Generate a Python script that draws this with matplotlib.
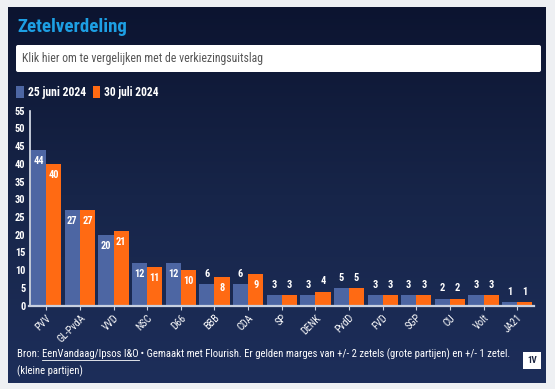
"""Zetelverdeling peiling: 25 juni vs 30 juli 2024."""

import logging

import matplotlib

matplotlib.use("Agg")
import matplotlib.pyplot as plt
import numpy as np
from matplotlib.colors import LinearSegmentedColormap
from matplotlib.patches import FancyBboxPatch, Rectangle

logging.getLogger("matplotlib.font_manager").setLevel(logging.ERROR)

parties = ["PVV", "GL-PvdA", "VVD", "NSC", "D66", "BBB", "CDA", "SP", "DENK",
           "PvdD", "FVD", "SGP", "CU", "Volt", "JA21"]
seats_june = [44, 27, 20, 12, 12, 6, 6, 3, 3, 5, 3, 3, 2, 3, 1]
seats_july = [40, 27, 21, 11, 10, 8, 9, 3, 4, 5, 3, 3, 2, 3, 1]
series_labels = ["25 juni 2024", "30 juli 2024"]
y_ticks = list(range(0, 60, 5))

BLUE = "#4d66a3"
ORANGE = "#ff6a13"
TEXT = "#ffffff"
FONT = dict(family=["Roboto Condensed", "Barlow Condensed", "DejaVu Sans"])

W, H = 555, 389
fig = plt.figure(figsize=(W / 100, H / 100), dpi=100)
fig.patch.set_facecolor("#eef0f3")
renderer = fig.canvas.get_renderer()


def width_px(t):
    return t.get_window_extent(renderer).width


def fit(t, target):
    # scale font so the rendered text spans `target` pixels
    t.set_fontsize(t.get_fontsize() * target / width_px(t))
    return t


# background layer in pixel coordinates
bg = fig.add_axes([0, 0, 1, 1])
bg.axis("off")
grad = np.linspace(0, 1, 256)[:, None]
navy = LinearSegmentedColormap.from_list("navy", ["#0c1430", "#172549", "#1d2e5a"])
bg.imshow(grad, extent=(8, 546, 383, 7), cmap=navy, aspect="auto", zorder=0)
bg.set_xlim(0, W)
bg.set_ylim(H, 0)

fit(bg.text(17, 27, "Zetelverdeling", color="#1d9fe3", fontsize=13, fontweight="bold",
            va="center", ha="left", **FONT), 109)
bg.add_patch(FancyBboxPatch((16, 45), 525, 27, boxstyle="round,pad=0,rounding_size=2",
                            facecolor="white", edgecolor="none"))
fit(bg.text(22, 58.5, "Klik hier om te vergelijken met de verkiezingsuitslag",
            color="#555555", fontsize=8, va="center", ha="left", **FONT), 241)

# legend
bg.add_patch(Rectangle((16, 86), 8, 12, facecolor=BLUE, edgecolor="none"))
fit(bg.text(28, 92, series_labels[0], color=TEXT, fontsize=8.5, fontweight="bold",
            va="center", ha="left", **FONT), 58)
bg.add_patch(Rectangle((93, 86), 7, 12, facecolor=ORANGE, edgecolor="none"))
fit(bg.text(104, 92, series_labels[1], color=TEXT, fontsize=8.5, fontweight="bold",
            va="center", ha="left", **FONT), 54)

# footer, one line fitted to the reference width
parts = ["Bron: ", "EenVandaag/Ipsos I&O",
         " \u2022 Gemaakt met Flourish. Er gelden marges van +/- 2 zetels (grote partijen) "
         "en +/- 1 zetel."]
pieces = [bg.text(17, 354, p, color=TEXT, fontsize=7.5, va="center", ha="left", **FONT)
          for p in parts]
total = sum(width_px(p) for p in pieces)
size = 7.5 * 493 / total
xpos = 17.0
for i, p in enumerate(pieces):
    p.set_fontsize(size)
    p.set_x(xpos)
    w = width_px(p)
    if i == 1:
        bg.plot([xpos, xpos + w], [360, 360], color=TEXT, lw=0.6)
    xpos += w
bg.text(17, 371, "(kleine partijen)", color=TEXT, fontsize=size, va="center", ha="left",
        **FONT)
bg.add_patch(Rectangle((523, 352), 18, 17, facecolor="white", edgecolor="none"))
bg.text(532, 360.5, "1V", color="#1a2440", fontsize=6.5, fontweight="bold", va="center",
        ha="center", **FONT)

# chart
ax = fig.add_axes([29.5 / W, 1 - 305.7 / H, (534 - 29.5) / W, (305.7 - 110.6) / H])
ax.patch.set_alpha(0)
x = np.arange(len(parties))
w = 0.45
b1 = ax.bar(x - w / 2, seats_june, w, color=BLUE, zorder=2)
b2 = ax.bar(x + w / 2, seats_july, w, color=ORANGE, zorder=2)
ax.set_xlim(-0.5, len(parties) - 0.5)
ax.set_ylim(0, 55)
ax.set_yticks(y_ticks)
ax.tick_params(axis="y", length=0, pad=3, labelcolor=TEXT, labelsize=7.5)
ax.tick_params(axis="x", length=3, width=0.8, color="#c8d0e0", pad=2, labelcolor=TEXT,
               labelsize=7.5)
ax.set_xticks(x)
ax.set_xticklabels(parties, rotation=45, ha="right", rotation_mode="anchor")
for lab in ax.get_xticklabels():
    lab.set_family(FONT["family"])
for lab in ax.get_yticklabels():
    lab.set_family(FONT["family"])
    lab.set_fontweight("bold")
for s in ["top", "right"]:
    ax.spines[s].set_visible(False)
ax.spines["left"].set_color("#e0e6f0")
ax.spines["left"].set_linewidth(1.2)
ax.spines["bottom"].set_color("#c8d0e0")
ax.spines["bottom"].set_linewidth(1.6)

for bars, vals in ((b1, seats_june), (b2, seats_july)):
    for rect, v in zip(bars, vals):
        cx = rect.get_x() + rect.get_width() / 2
        offset = -8 if v >= 7 else 7.5
        ax.annotate(str(v), (cx, v), xytext=(0, offset), textcoords="offset points",
                    ha="center", va="center", color=TEXT, fontsize=7.5,
                    fontweight="bold", **FONT)

fig.savefig("out.png", dpi=100)
